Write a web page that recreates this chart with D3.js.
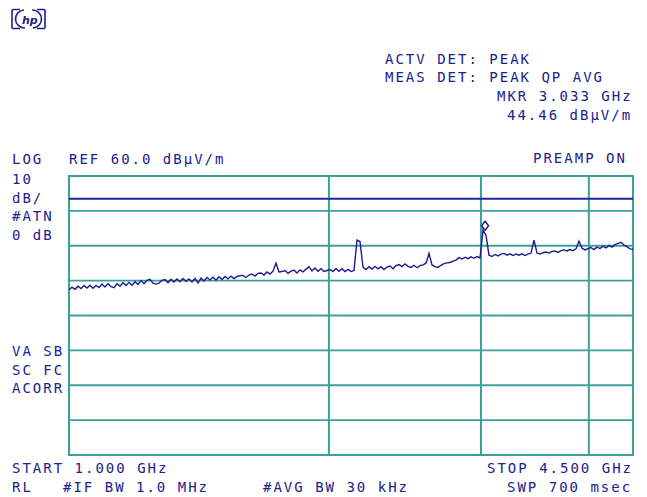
<!DOCTYPE html>
<html><head><meta charset="utf-8">
<script src="https://cdn.jsdelivr.net/npm/d3@7"></script>
<style>
html,body{margin:0;padding:0;background:#fff;}
svg text{font-family:"DejaVu Sans Mono",monospace;font-size:14px;fill:#20208e;letter-spacing:2px;}
</style></head>
<body>
<svg id="c" width="647" height="497"></svg>
<script>
// ---- data ----
const startGHz = 1.0;
const stopGHz = 4.5;
const refLevel = 60.0;          // dBµV/m (top graticule)
const dbPerDiv = 10;
const divisions = 8;
const gridFreqsGHz = [2, 3, 4];  // vertical graticule (log frequency axis)
const limitLineDb = 53.5;
const markerFreqGHz = 3.033;
const markerLevelDb = 44.46;
const sweepTimeMs = 700;
const ifBwMHz = 1.0;
const avgBwKHz = 30;
// trace amplitudes (dBµV/m), equally spaced sweep points across the display
const traceDb = [
  27.4,28.1,27.5,28.4,27.7,28.6,27.9,28.7,27.8,28.6,
  28.0,29.0,28.2,29.1,28.3,28.0,29.1,28.4,29.4,28.6,
  29.5,28.7,29.7,28.9,30.0,29.1,30.1,30.4,29.3,29.0,
  29.3,30.1,30.3,29.4,30.4,29.6,30.5,29.7,30.6,29.8,
  30.5,29.6,30.6,29.3,30.7,29.9,30.9,30.2,31.0,30.1,
  31.1,30.3,31.2,30.5,31.3,30.6,31.2,31.4,31.5,30.9,
  31.6,31.9,31.3,32.1,32.2,31.6,32.5,31.9,32.7,35.0,
  32.5,32.6,32.9,32.1,32.7,33.0,32.2,33.1,32.5,33.3,
  34.0,32.8,33.6,32.7,33.4,32.6,32.9,33.2,32.6,33.5,
  32.7,33.4,32.6,33.2,32.6,32.9,41.6,41.2,33.9,33.2,
  34.0,33.3,34.1,33.4,34.0,33.2,33.9,34.2,33.4,34.3,
  34.6,34.0,34.8,34.1,33.8,34.4,33.7,34.3,34.5,35.0,
  37.8,34.5,34.0,33.8,34.4,34.9,35.1,35.2,35.6,35.9,
  36.6,36.2,36.7,36.3,36.8,36.4,36.9,36.5,44.46,43.0,
  37.3,36.9,37.5,37.1,37.6,37.8,37.3,37.7,37.2,37.6,
  37.3,37.7,37.2,37.6,37.9,41.6,37.9,37.6,38.0,38.2,
  37.9,38.4,38.5,38.1,38.6,38.8,38.5,38.9,38.6,39.1,
  41.3,39.3,38.8,39.2,39.5,38.9,39.6,39.2,39.9,39.4,
  40.1,39.6,40.3,40.7,41.0,40.2,39.7,39.1,39.0
];

// ---- layout ----
const svg = d3.select("#c");
const navy = "#20208e";
const teal = "#3d9f9b";
const plotL = 69, plotR = 633, plotT = 176, plotB = 455;

const x = d3.scaleLog().domain([startGHz, stopGHz]).range([plotL, plotR]);
const bottomDb = refLevel - dbPerDiv * divisions;
const y = d3.scaleLinear().domain([bottomDb, refLevel]).range([plotB, plotT]);
const xi = d3.scaleLinear().domain([0, traceDb.length - 1]).range([x(startGHz), x(stopGHz)]);

// graticule horizontal lines
const hLevels = d3.range(divisions + 1).map(k => bottomDb + k * dbPerDiv);
svg.append("g").selectAll("line").data(hLevels).join("line")
  .attr("x1", x(startGHz)).attr("x2", x(stopGHz) - 1)
  .attr("y1", d => y(d)).attr("y2", d => y(d))
  .attr("stroke", teal).attr("stroke-width", 1.8);

// vertical lines: edges + grid freqs
const vFreqs = [startGHz, ...gridFreqsGHz, stopGHz];
svg.append("g").selectAll("line").data(vFreqs).join("line")
  .attr("x1", d => x(d)).attr("x2", d => x(d))
  .attr("y1", y(refLevel) - 0.9).attr("y2", y(bottomDb) + 0.9)
  .attr("stroke", teal).attr("stroke-width", 2);

// limit line
svg.append("line")
  .attr("x1", x(startGHz)).attr("x2", x(stopGHz))
  .attr("y1", y(limitLineDb)).attr("y2", y(limitLineDb))
  .attr("stroke", "#23239a").attr("stroke-width", 2);

// trace
svg.append("path")
  .datum(traceDb)
  .attr("d", d3.line().x((d, i) => xi(i)).y(d => y(d)))
  .attr("fill", "none").attr("stroke", "#1c1c8a").attr("stroke-width", 1.4)
  .attr("stroke-linejoin", "miter");

// marker diamond
const mx = x(markerFreqGHz), my = y(markerLevelDb) - 4.5;
svg.append("path")
  .attr("d", `M${mx},${my - 4.5}L${mx + 3.5},${my}L${mx},${my + 4.5}L${mx - 3.5},${my}Z`)
  .attr("fill", "#fff").attr("stroke", navy).attr("stroke-width", 1.5);

// texts
const T = (str, tx, ty) => svg.append("text").attr("x", tx).attr("y", ty).text(str);
T("ACTV DET: PEAK", 385, 64);
T("MEAS DET: PEAK QP AVG", 385, 82);
T(`MKR ${markerFreqGHz.toFixed(3)} GHz`, 497, 101);
T(`${markerLevelDb.toFixed(2)} dBµV/m`, 507, 120);
T("LOG", 12, 164);
T(`REF ${refLevel.toFixed(1)} dBµV/m`, 69, 164);
T("PREAMP ON", 533, 163);
T(`${dbPerDiv}`, 12, 184);
T("dB/", 12, 203);
T("#ATN", 12, 221);
T("0 dB", 12, 240);
T("VA SB", 12, 356);
T("SC FC", 12, 375);
T("ACORR", 12, 393);
T(`START ${startGHz.toFixed(3)} GHz`, 12, 473);
T(`STOP ${stopGHz.toFixed(3)} GHz`, 487, 473);
T("RL", 12, 492);
T(`#IF BW ${ifBwMHz.toFixed(1)} MHz`, 63, 492);
T(`#AVG BW ${avgBwKHz} kHz`, 263, 492);
T(`SWP ${sweepTimeMs} msec`, 507, 492);

// HP logo
const logo = svg.append("g").attr("fill", "none").attr("stroke", navy).attr("stroke-width", 1.6);
logo.append("path").attr("d", "M20,9.5 L13,9.5 Q12,9.5 12,10.5 L12,27.5 Q12,28.5 13,28.5 L20,28.5");
logo.append("path").attr("d", "M37,9.5 L44,9.5 Q45,9.5 45,10.5 L45,27.5 Q45,28.5 44,28.5 L37,28.5");
logo.append("path").attr("d", "M24,10 A9,9 0 0 0 25,28 M33,28 A9,9 0 0 0 32,10");
svg.append("text").attr("x", 22).attr("y", 24)
  .style("font-family", "DejaVu Sans").style("font-style", "italic").style("font-weight", "bold")
  .style("font-size", "11px").style("letter-spacing", "0px").text("hp");
</script>
</body></html>
